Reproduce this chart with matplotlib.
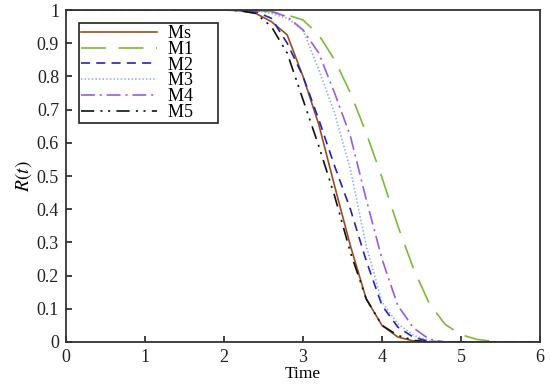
import matplotlib
matplotlib.use("Agg")
import matplotlib.pyplot as plt
import numpy as np

# ---- data ----
time = [0.0, 1.0, 2.0, 2.2, 2.4, 2.6, 2.8, 3.0, 3.2, 3.4, 3.6, 3.8, 4.0,
        4.2, 4.4, 4.6, 4.8, 5.0, 5.2, 5.4, 5.6, 5.8, 6.0]
Ms = [1.0, 1.0, 1.0, 0.998, 0.99, 0.965, 0.925, 0.80, 0.655, 0.47, 0.29, 0.13, 0.05,
      0.015, 0.003, 0, 0, 0, 0, 0, 0, 0, 0]
M1 = [1.0, 1.0, 1.0, 1.0, 0.998, 0.995, 0.985, 0.97, 0.925, 0.85, 0.75, 0.63, 0.495,
      0.35, 0.22, 0.115, 0.053, 0.022, 0.008, 0.002, 0, 0, 0]
M2 = [1.0, 1.0, 1.0, 0.999, 0.995, 0.975, 0.90, 0.80, 0.67, 0.53, 0.40, 0.245, 0.11,
      0.045, 0.014, 0.002, 0, 0, 0, 0, 0, 0, 0]
M3 = [1.0, 1.0, 1.0, 1.0, 0.998, 0.99, 0.975, 0.94, 0.82, 0.69, 0.52, 0.29, 0.12,
      0.055, 0.02, 0.004, 0, 0, 0, 0, 0, 0, 0]
M4 = [1.0, 1.0, 1.0, 1.0, 0.998, 0.995, 0.98, 0.94, 0.87, 0.75, 0.62, 0.43, 0.25,
      0.11, 0.042, 0.008, 0, 0, 0, 0, 0, 0, 0]
M5 = [1.0, 1.0, 1.0, 0.998, 0.99, 0.95, 0.87, 0.73, 0.59, 0.44, 0.27, 0.13, 0.05,
      0.02, 0.005, 0, 0, 0, 0, 0, 0, 0, 0]
labels = ["Ms", "M1", "M2", "M3", "M4", "M5"]
xticks = [0, 1, 2, 3, 4, 5, 6]
yticks = [0, 0.1, 0.2, 0.3, 0.4, 0.5, 0.6, 0.7, 0.8, 0.9, 1]
ytick_labels = ["0", "0.1", "0.2", "0.3", "0.4", "0.5", "0.6", "0.7", "0.8", "0.9", "1"]

plt.rcParams['font.family'] = ['Liberation Serif', 'DejaVu Serif']
plt.rcParams['mathtext.fontset'] = 'stix'
plt.rcParams['lines.scale_dashes'] = False

fig = plt.figure(figsize=(5.5, 3.86), dpi=100)
ax = fig.add_axes([66/550, 1-342/386, 474/550, 332/386])

series = [Ms, M1, M2, M3, M4, M5]
colors = ["#9A4E1E", "#7CBA3A", "#2222C4", "#8CA8EE", "#9B5BE6", "#111111"]
styles = ["-", (0, (18, 9)), (0, (6.5, 4.5)), (0, (1, 1.6)),
          (0, (10, 3.5, 1.5, 3.5)), (0, (9.5, 4.5, 1.5, 4, 1.5, 4.5))]

for y, lab, c, ls in zip(series, labels, colors, styles):
    ax.plot(time, y, color=c, linestyle=ls, lw=1.2, label=lab + "     ")

ax.set_xlim(0, 6)
ax.set_ylim(0, 1)
ax.set_xticks(xticks)
ax.set_xticklabels([str(v) for v in xticks])
ax.set_yticks(yticks)
ax.set_yticklabels(ytick_labels)
ax.tick_params(direction='in', length=4, width=1.2, labelsize=13, colors='#222222',
               top=False, right=False, pad=5)
for s in ax.spines.values():
    s.set_linewidth(1.3)
    s.set_color('#333333')

ax.set_xlabel("Time", fontsize=12.5, labelpad=0)
ax.set_ylabel(r"$R\left(t\right)$", fontsize=14, labelpad=2)

leg = ax.legend(loc='upper left', bbox_to_anchor=(13/474, 319/332), borderaxespad=0,
                fontsize=13, fancybox=False, framealpha=1, edgecolor='#222222',
                handlelength=4.2, handletextpad=0.6, labelspacing=-0.07, borderpad=0.12)
leg.get_frame().set_linewidth(1.2)

fig.savefig("out.png", dpi=100)
